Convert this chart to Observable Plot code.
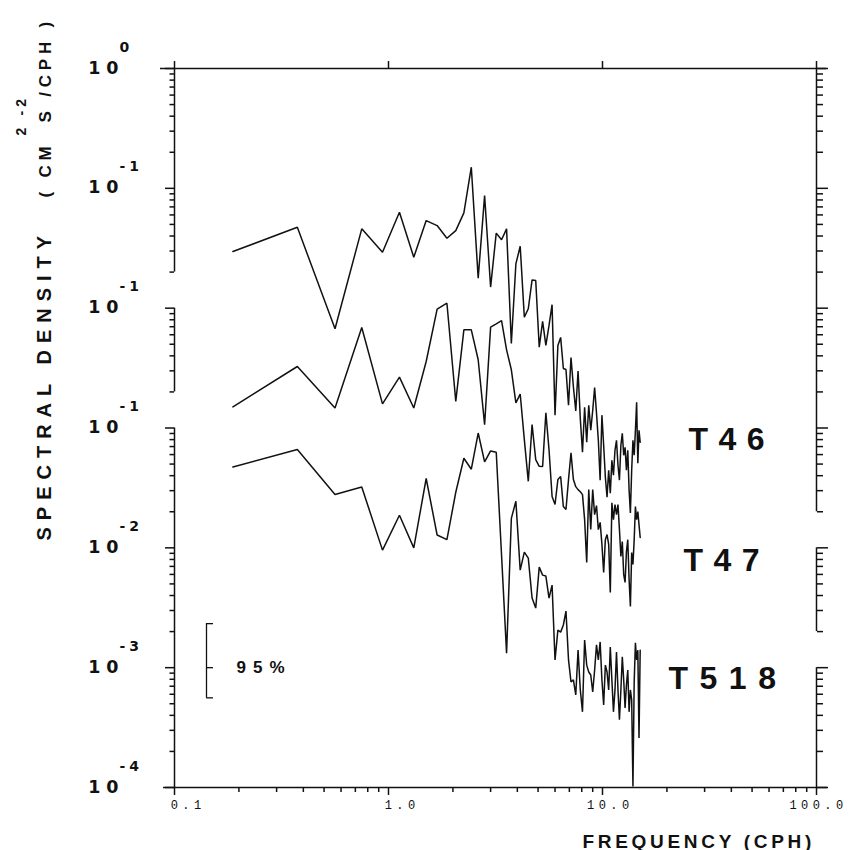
<!DOCTYPE html>
<html><head><meta charset="utf-8">
<script src="https://cdn.jsdelivr.net/npm/d3@7"></script>
<script src="https://cdn.jsdelivr.net/npm/@observablehq/plot@0.6"></script>
<style>body{margin:0;background:#fff}</style>
</head><body><div id="chart"></div>
<script>
// ---- data -------------------------------------------------------------
const seriesNames = ["T46", "T47", "T518"];
const freq = [0.1875,0.375,0.5625,0.75,0.9375,1.125,1.3125,1.5,1.6875,1.875,
2.0625,2.25,2.4375,2.625,2.8125,3.0,3.1875,3.375,3.5625,3.75,
3.9375,4.125,4.3125,4.5,4.6875,4.875,5.0625,5.25,5.4375,5.625,
5.8125,6.0,6.1875,6.375,6.5625,6.75,6.9375,7.125,7.3125,7.5,
7.6875,7.875,8.0625,8.25,8.4375,8.625,8.8125,9.0,9.1875,9.375,
9.5625,9.75,9.9375,10.125,10.3125,10.5,10.6875,10.875,11.0625,11.25,
11.4375,11.625,11.8125,12.0,12.1875,12.375,12.5625,12.75,12.9375,13.125,
13.3125,13.5,13.6875,13.875,14.0625,14.25,14.4375,14.625,14.8125,15.0];
const t46 = [0.0297,0.0473,0.00673,0.0459,0.0293,0.0631,0.0266,0.0538,0.0489,0.0383,
0.0444,0.0624,0.150,0.0178,0.0869,0.0150,0.0423,0.0372,0.0459,0.00508,
0.0234,0.0329,0.00841,0.00989,0.0172,0.0170,0.00473,0.00775,0.00489,0.00718,
0.0107,0.00128,0.00489,0.00570,0.00314,0.00308,0.00155,0.00388,0.00220,0.00139,
0.00299,0.00120,0.000627,0.00149,0.000760,0.00155,0.000957,0.00140,0.00218,0.00133,
0.000790,0.000367,0.00128,0.000718,0.000388,0.000265,0.000444,0.000286,0.000538,0.000404,
0.000652,0.000790,0.000489,0.000367,0.000718,0.000904,0.000592,0.000690,0.000444,0.000652,
0.000303,0.000195,0.000444,0.000790,0.000592,0.000957,0.00164,0.000508,0.000957,0.000760];
const t47 = [0.0150,0.0326,0.0147,0.0689,0.0159,0.0266,0.0147,0.0359,0.0981,0.110,
0.0167,0.0659,0.0659,0.0371,0.01066,0.0695,0.0740,0.0788,0.0449,0.0306,
0.0162,0.0192,0.00799,0.00359,0.01066,0.00544,0.00479,0.00477,0.0134,0.00659,
0.00268,0.00230,0.00371,0.00393,0.00221,0.00209,0.00371,0.00622,0.00371,0.00324,
0.00306,0.00294,0.00278,0.00172,0.000754,0.00306,0.00142,0.00306,0.00189,0.00225,
0.00142,0.00163,0.00107,0.000622,0.00117,0.00129,0.00107,0.000424,0.00238,0.00172,
0.00230,0.00189,0.00230,0.00142,0.000846,0.00113,0.000599,0.000514,0.000931,0.00117,
0.000544,0.000324,0.000912,0.000726,0.00117,0.00221,0.00172,0.00201,0.00156,0.00122];
const t518 = [0.0473,0.0661,0.0279,0.0322,0.00957,0.0187,0.0100,0.0379,0.0128,0.0117,
0.0291,0.0559,0.0453,0.0908,0.0521,0.0643,0.0627,0.00869,0.00132,0.0176,
0.0245,0.00652,0.00920,0.00820,0.00381,0.00314,0.00690,0.00592,0.00581,0.00381,
0.00489,0.00116,0.00206,0.00198,0.00227,0.00297,0.00116,0.000760,0.000790,0.000592,
0.00140,0.000652,0.000428,0.00170,0.00105,0.000920,0.000869,0.000627,0.000957,0.00155,
0.00116,0.00164,0.000790,0.000489,0.00105,0.000920,0.000652,0.00149,0.000790,0.000428,
0.000652,0.00135,0.000652,0.000367,0.000652,0.00123,0.000790,0.000461,0.000718,0.000957,
0.000428,0.000652,0.000538,0.000102,0.000760,0.00161,0.00116,0.00140,0.000259,0.00140];
// each spectrum is drawn shifted down by whole decades (stacked display)
const stackFactor = [1, 0.1, 0.01];
// 95% confidence bar (in T518 units)
const ciValues = [2.33e-3, 1e-3, 5.6e-4];
const ciLabel = "95%";
// tick labels
const xTickValues = [0.1, 1, 10, 100];
const xTickLabels = ["0.1", "1.0", "10.0", "100.0"];
const xMinorTicks = [0.2,0.3,0.4,0.5,0.6,0.7,0.8,0.9,2,3,4,5,6,7,8,9,20,30,40,50,60,70,80,90];
const yDecades = [1, 0.1, 0.01, 0.001, 1e-4, 1e-5, 1e-6];          // stacked-axis positions
const yTickExponents = ["0", "-1", "-1", "-1", "-2", "-3", "-4"];
const leftSegments = [[1, 0.02], [0.01, 0.002], [0.001, 1e-6]];
const rightSegments = [[1, 2e-4], [1e-4, 2e-5], [1e-5, 1e-6]];

// ---- build -------------------------------------------------------------
const seriesVals = [t46, t47, t518];
const rows = seriesNames.flatMap((s, i) => freq.map((f, j) => ({series: s, f, v: seriesVals[i][j], yv: seriesVals[i][j] * stackFactor[i]})));

function segTicks(segs) {
  const out = [];
  for (const [top, bot] of segs)
    for (let p = -7; p <= 0; p++)
      for (let k = 1; k <= 9; k++) {
        const v = +(k * Math.pow(10, p)).toPrecision(6);
        if (v <= top * 1.0001 && v >= bot * 0.9999) out.push({v, major: k === 1});
      }
  return out;
}
const lt = segTicks(leftSegments), rt = segTicks(rightSegments);
const yLab = yDecades.map((v, i) => ({v, e: yTickExponents[i]}));
const ciRows = ciValues.map(v => v * stackFactor[2]);

const SANS = "Liberation Sans, Arial, sans-serif";
const DV = "DejaVu Sans, sans-serif";
const MONO = "Liberation Mono, DejaVu Sans Mono, monospace";
const K = "#111";
const sw = 1.5;
const blank = () => "";

const chart = Plot.plot({
  width: 850, height: 850,
  marginLeft: 174, marginRight: 34, marginTop: 68, marginBottom: 63,
  x: {type: "log", domain: [0.1, 100], label: null},
  y: {type: "log", domain: [1e-6, 1], label: null},
  style: {background: "#fff", color: K},
  marks: [
    // frame pieces
    Plot.ruleY([1], {y: d => d, insetLeft: -14, insetRight: -10, stroke: K, strokeWidth: sw}),
    Plot.ruleY([1e-6], {y: d => d, insetLeft: -11, insetRight: -11, stroke: K, strokeWidth: sw}),
    Plot.ruleX(leftSegments, {x: 0.1, y1: d => d[0], y2: d => d[1], stroke: K, strokeWidth: sw}),
    Plot.ruleX(rightSegments, {x: 100, y1: d => d[0], y2: d => d[1], stroke: K, strokeWidth: sw}),
    // ticks
    Plot.axisX({anchor: "top", ticks: xTickValues, tickSize: 8, tickFormat: blank, label: null, strokeWidth: sw}),
    Plot.axisX({anchor: "bottom", ticks: xTickValues, tickSize: 8, tickFormat: blank, label: null, strokeWidth: sw}),
    Plot.axisX({anchor: "bottom", ticks: xMinorTicks, tickSize: 5, tickFormat: blank, label: null, strokeWidth: sw}),
    Plot.axisY({anchor: "left", ticks: lt.filter(d => d.major).map(d => d.v), tickSize: 9, tickFormat: blank, label: null, strokeWidth: sw}),
    Plot.axisY({anchor: "left", ticks: lt.filter(d => !d.major).map(d => d.v), tickSize: 4.5, tickFormat: blank, label: null, strokeWidth: sw}),
    Plot.axisY({anchor: "right", ticks: rt.filter(d => d.major).map(d => d.v), tickSize: 11, tickFormat: blank, label: null, strokeWidth: sw}),
    Plot.axisY({anchor: "right", ticks: rt.filter(d => !d.major).map(d => d.v), tickSize: 6, tickFormat: blank, label: null, strokeWidth: sw}),
    // x tick labels
    Plot.text(xTickValues, {x: d => d, frameAnchor: "bottom", text: (d, i) => xTickLabels[i], textAnchor: "end", lineAnchor: "bottom", dx: 31, dy: 21, fontSize: 12, fontFamily: MONO, fill: K}),
    // y tick labels: 10 with exponent
    Plot.text(yLab, {y: "v", frameAnchor: "left", text: () => "10", textAnchor: "end", lineAnchor: "bottom", dx: -50, dy: 5, fontSize: 17.5, fontWeight: "bold", fontFamily: DV, fill: K}),
    Plot.text(yLab, {y: "v", frameAnchor: "left", text: "e", textAnchor: "start", lineAnchor: "bottom", dx: -55, dy: -17, fontSize: 14, fontWeight: "bold", fontFamily: DV, fill: K}),
    // spectra
    Plot.line(rows, {x: "f", y: "yv", z: "series", stroke: K, strokeWidth: 1.5, strokeLinejoin: "miter"}),
    // 95% bar
    Plot.ruleX([ciRows], {x: 0.1411, y1: d => d[0], y2: d => d[2], stroke: K, strokeWidth: 1.3}),
    Plot.ruleY(ciRows, {y: d => d, x1: 0.1411, x2: 0.1521, stroke: K, strokeWidth: 1.3}),
    Plot.text([ciLabel], {frameAnchor: "top-left", text: d => d, dx: 62, dy: 604, textAnchor: "start", lineAnchor: "bottom", fontSize: 17, fontWeight: "bold", fontFamily: SANS, fill: K}),
    // series labels
    Plot.text([seriesNames[0]], {frameAnchor: "top-left", text: d => d, dx: 514, dy: 381, textAnchor: "start", lineAnchor: "bottom", fontSize: 32, fontWeight: "bold", fontFamily: SANS, fill: K}),
    Plot.text([seriesNames[1]], {frameAnchor: "top-left", text: d => d, dx: 509, dy: 502, textAnchor: "start", lineAnchor: "bottom", fontSize: 32, fontWeight: "bold", fontFamily: SANS, fill: K}),
    Plot.text([seriesNames[2]], {frameAnchor: "top-left", text: d => d, dx: 494, dy: 620, textAnchor: "start", lineAnchor: "bottom", fontSize: 32, fontWeight: "bold", fontFamily: SANS, fill: K}),
    // axis titles
    Plot.text(["FREQUENCY (CPH)"], {frameAnchor: "top-left", text: d => d, dx: 408, dy: 779, textAnchor: "start", lineAnchor: "bottom", fontSize: 19, fontWeight: "bold", fontFamily: SANS, fill: K}),
    Plot.text(["SPECTRAL DENSITY"], {frameAnchor: "top-left", text: d => d, dx: -124, dy: 472, rotate: -90, textAnchor: "start", lineAnchor: "bottom", fontSize: 20, fontWeight: "bold", fontFamily: SANS, fill: K}),
    Plot.text(["( CM\u00a0 S /CPH )"], {frameAnchor: "top-left", text: d => d, dx: -124, dy: 129, rotate: -90, textAnchor: "start", lineAnchor: "bottom", fontSize: 17, fontWeight: "bold", fontFamily: SANS, fill: K}),
    Plot.text(["2"], {frameAnchor: "top-left", text: d => d, dx: -149, dy: 67, rotate: -90, textAnchor: "start", lineAnchor: "bottom", fontSize: 14, fontWeight: "bold", fontFamily: SANS, fill: K}),
    Plot.text(["-2"], {frameAnchor: "top-left", text: d => d, dx: -149, dy: 47, rotate: -90, textAnchor: "start", lineAnchor: "bottom", fontSize: 14, fontWeight: "bold", fontFamily: SANS, fill: K})
  ]
});

const spacing = {"SPECTRAL DENSITY": 7, "( CM\u00a0 S /CPH )": 4.8, "FREQUENCY (CPH)": 3.7,
  "T46": 10.5, "T47": 10.5, "T518": 11.5, "95%": 7, "10": 6, "0": 0, "-1": 4, "-2": 4, "-3": 4, "-4": 4,
  "0.1": 4.4, "1.0": 4.4, "10.0": 4.4, "100.0": 4.4, "2": 0};
d3.select(chart).selectAll("text").each(function() {
  const t = this.textContent;
  if (spacing[t] != null) this.setAttribute("letter-spacing", spacing[t]);
});
document.getElementById("chart").appendChild(chart);
</script>
</body></html>
